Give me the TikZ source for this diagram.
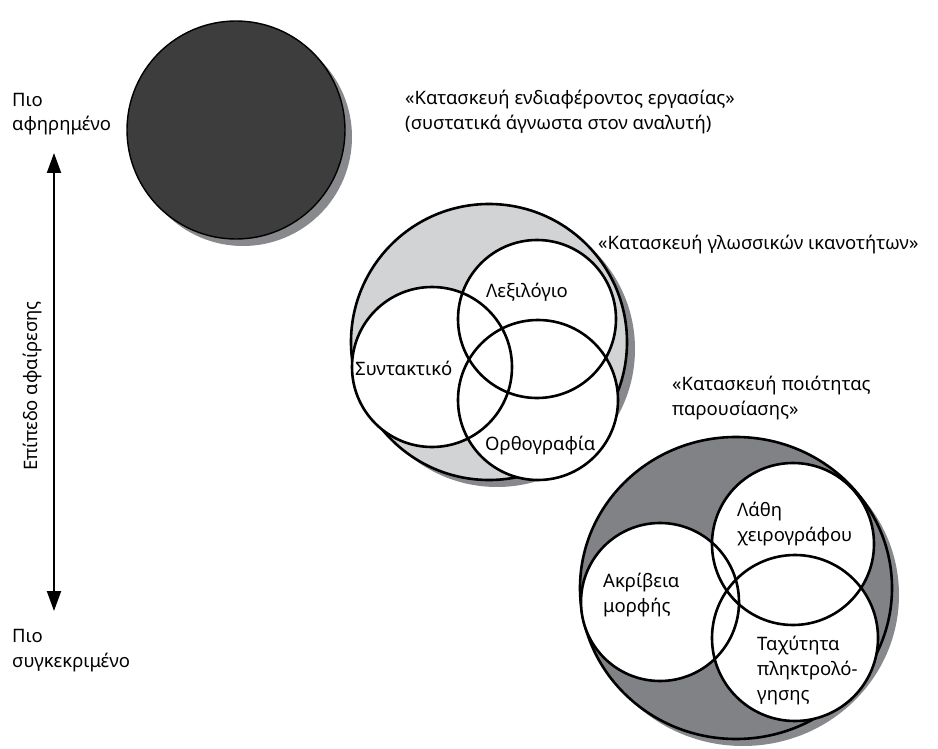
\documentclass[tikz,border=0pt]{standalone}
\usepackage{fontspec}
\setmainfont{Noto Sans}
\usetikzlibrary{arrows.meta}
\definecolor{darkfill}{RGB}{61,61,61}
\definecolor{lightfill}{RGB}{209,211,212}
\definecolor{midfill}{RGB}{128,130,133}
\definecolor{shadowc}{RGB}{135,137,140}
\begin{document}
\begin{tikzpicture}[x=1pt,y=-1pt,
  font=\fontsize{18.5}{22}\selectfont,
  outl/.style={draw=black,line width=2.6pt},
  lbl/.style={inner sep=0pt,anchor=base west},
  clbl/.style={inner sep=0pt,anchor=base},
  axis/.style={line width=2pt,{Triangle[width=14pt,length=20pt]}-{Triangle[width=14pt,length=20pt]}}]
\useasboundingbox[fill=white] (0,0) rectangle (938,749);
% shadows
\fill[shadowc] (243,137) circle[radius=109pt];
\fill[shadowc] (497,349) circle[radius=138pt];
\fill[shadowc] (743,595) ellipse[x radius=156pt,y radius=151pt];
% top circle
\filldraw[fill=darkfill,draw=black,line width=1.4pt] (236,130) circle[radius=109pt];
% middle group
\filldraw[fill=lightfill,outl] (489,342) circle[radius=138pt];
\fill[white] (537,319) circle[radius=79pt];
\fill[white] (432,367) circle[radius=80pt];
\fill[white] (538,400) circle[radius=80pt];
\draw[outl] (537,319) circle[radius=79pt];
\draw[outl] (432,367) circle[radius=80pt];
\draw[outl] (538,400) circle[radius=80pt];
% bottom group
\filldraw[fill=midfill,outl] (736,588) ellipse[x radius=156pt,y radius=151pt];
\fill[white] (660,602) circle[radius=79pt];
\fill[white] (793,544) circle[radius=81pt];
\fill[white] (795,638) circle[radius=83pt];
\draw[outl] (660,602) circle[radius=79pt];
\draw[outl] (793,544) circle[radius=81pt];
\draw[outl] (795,638) circle[radius=83pt];
% axis
\coordinate (top) at (54,153);
\coordinate (bot) at (54,611);
\draw[axis] (bot) -- (top);
\node[rotate=90,inner sep=0pt] (axl) at (33,386) {Επίπεδο αφαίρεσης};
\node[lbl] (t1) at (12,107) {Πιο};
\node[lbl] (t2) at (12,131) {αφηρημένο};
\node[lbl] (b1) at (12,642) {Πιο};
\node[lbl] (b2) at (12,667) {συγκεκριμένο};
% titles
\node[lbl] (h1a) at (405,105) {«Κατασκευή ενδιαφέροντος εργασίας»};
\node[lbl] (h1b) at (405,130) {(συστατικά άγνωστα στον αναλυτή)};
\node[lbl] (h2) at (598,249) {«Κατασκευή γλωσσικών ικανοτήτων»};
\node[lbl] (h3a) at (672,390) {«Κατασκευή ποιότητας};
\node[lbl] (h3b) at (672,415) {παρουσίασης»};
% inner labels
\node[clbl] (lex) at (527,298) {Λεξιλόγιο};
\node[lbl] (syn) at (355,375) {Συντακτικό};
\node[lbl] (orth) at (485,450) {Ορθογραφία};
\node[lbl] (la1) at (737,516) {Λάθη};
\node[lbl] (la2) at (737,541) {χειρογράφου};
\node[lbl] (ak1) at (603,587) {Ακρίβεια};
\node[lbl] (ak2) at (603,612) {μορφής};
\node[lbl] (ta1) at (757,650) {Ταχύτητα};
\node[lbl] (ta2) at (757,675) {πληκτρολό-};
\node[lbl] (ta3) at (757,700) {γησης};
\end{tikzpicture}
\end{document}
